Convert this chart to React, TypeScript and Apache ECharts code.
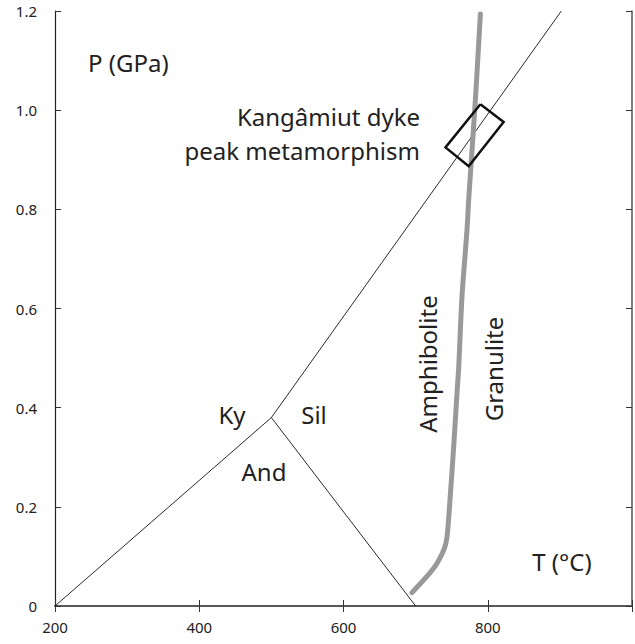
import React, { useEffect, useRef } from "react";
import * as echarts from "echarts";

// Aluminosilicate phase boundaries (T in °C, P in GPa)
const kyAndT = [200, 500];
const kyAndP = [0, 0.38];
const andSilT = [500, 700];
const andSilP = [0.38, 0];
const kySilT = [500, 902];
const kySilP = [0.38, 1.2];

// Amphibolite / granulite facies boundary
const faciesT = [695, 725, 739, 743.6, 748, 752.8, 757.4, 759.8, 764.3, 771.3, 773.6, 782.9, 789.8];
const faciesP = [0.027, 0.076, 0.113, 0.14, 0.221, 0.322, 0.43, 0.483, 0.625, 0.76, 0.82, 1.022, 1.194];

// Peak metamorphic conditions of the Kangâmiut dykes (box corners)
const boxT = [789.8, 822, 773.6, 741.4, 789.8];
const boxP = [1.012, 0.976, 0.887, 0.925, 1.012];

const xTicks = [200, 400, 600, 800];

const zip = (a: number[], b: number[]) => a.map((v, i) => [v, b[i]]);

const FONT = "Noto Sans";

export default function App() {
  const ref = useRef<HTMLDivElement>(null);

  useEffect(() => {
    if (!ref.current) return;
    const chart = echarts.init(ref.current, null, { renderer: "svg" });

    const thin = { color: "#111", width: 0.9 };
    const lineSeries = (data: number[][], lineStyle: any, smooth: any = false) => ({
      type: "line",
      data,
      showSymbol: false,
      symbol: "none",
      smooth,
      lineStyle,
      silent: true,
    });

    const textStyle = { fontFamily: FONT, fontSize: 24, fill: "#222" };
    const centered = { align: "center", verticalAlign: "middle" };

    chart.setOption({
      animation: false,
      backgroundColor: "#fff",
      grid: { left: 55, right: 3, top: 11, bottom: 38, containLabel: false },
      xAxis: [
        {
          type: "value",
          min: 200,
          max: 1000,
          interval: 200,
          position: "bottom",
          axisLine: { show: true, lineStyle: { color: "#666", width: 2 } },
          axisTick: { show: true, inside: true, length: 6, lineStyle: { color: "#333", width: 1 } },
          axisLabel: {
            show: true,
            margin: 13,
            color: "#222",
            fontFamily: FONT,
            fontSize: 15,
            formatter: (v: number) => (xTicks.includes(v) ? String(v) : ""),
          },
          splitLine: { show: false },
        },
        {
          type: "value",
          min: 200,
          max: 1000,
          interval: 200,
          position: "top",
          axisLine: { show: true, lineStyle: { color: "#555", width: 1.5 } },
          axisTick: { show: true, inside: true, length: 6, lineStyle: { color: "#333", width: 1 } },
          axisLabel: { show: false },
          splitLine: { show: false },
        },
      ],
      yAxis: [
        {
          type: "value",
          min: 0,
          max: 1.2,
          interval: 0.2,
          position: "left",
          axisLine: { show: true, lineStyle: { color: "#222", width: 1.2 } },
          axisTick: { show: true, inside: true, length: 6, lineStyle: { color: "#333", width: 1 } },
          axisLabel: {
            show: true,
            margin: 18,
            color: "#222",
            fontFamily: FONT,
            fontSize: 15,
            formatter: (v: number) => (v === 0 ? "0" : v.toFixed(1)),
          },
          splitLine: { show: false },
        },
        {
          type: "value",
          min: 0,
          max: 1.2,
          interval: 0.2,
          position: "right",
          axisLine: { show: true, lineStyle: { color: "#555", width: 1.5 } },
          axisTick: { show: true, inside: true, length: 6, lineStyle: { color: "#333", width: 1 } },
          axisLabel: { show: false },
          splitLine: { show: false },
        },
      ],
      series: [
        lineSeries(zip(kyAndT, kyAndP), thin),
        lineSeries(zip(andSilT, andSilP), thin),
        lineSeries(zip(kySilT, kySilP), thin),
        lineSeries(zip(faciesT, faciesP), { color: "#999", width: 5, cap: "round", join: "round" }, 0.25),
        lineSeries(zip(boxT, boxP), { color: "#111", width: 2.5, join: "miter" }),
      ],
      graphic: [
        { type: "text", x: 88, y: 62, style: { ...textStyle, text: "P (GPa)", verticalAlign: "middle" } },
        {
          type: "text",
          x: 420,
          y: 116,
          style: { ...textStyle, text: "Kangâmiut dyke", align: "right", verticalAlign: "middle" },
        },
        {
          type: "text",
          x: 420,
          y: 150,
          style: { ...textStyle, text: "peak metamorphism", align: "right", verticalAlign: "middle" },
        },
        { type: "text", x: 232, y: 414, style: { ...textStyle, ...centered, text: "Ky" } },
        { type: "text", x: 314, y: 414, style: { ...textStyle, ...centered, text: "Sil" } },
        { type: "text", x: 264, y: 471, style: { ...textStyle, ...centered, text: "And" } },
        {
          type: "text",
          x: 427,
          y: 364,
          rotation: Math.PI / 2,
          style: { ...textStyle, ...centered, text: "Amphibolite" },
        },
        {
          type: "text",
          x: 493,
          y: 369,
          rotation: Math.PI / 2,
          style: { ...textStyle, ...centered, text: "Granulite" },
        },
        { type: "text", x: 562, y: 561, style: { ...textStyle, ...centered, text: "T (°C)" } },
      ],
    });

    return () => chart.dispose();
  }, []);

  return <div ref={ref} style={{ width: 635, height: 644, position: "absolute", left: 0, top: 0 }} />;
}
